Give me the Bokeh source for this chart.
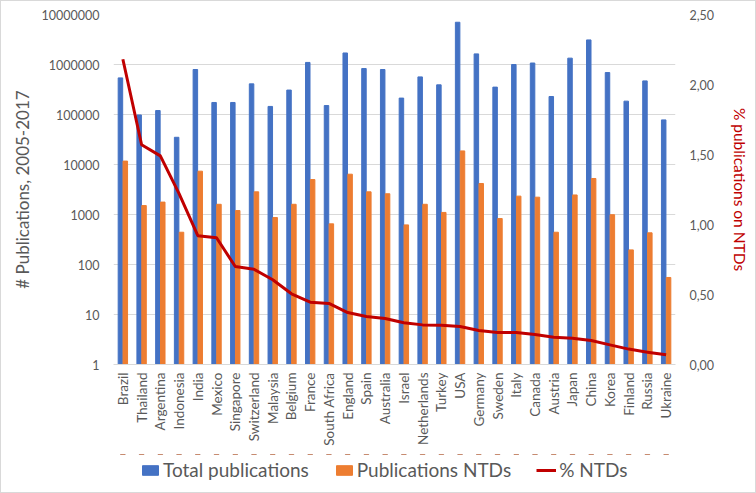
from bokeh.plotting import figure
from bokeh.layouts import column
from bokeh.models import (Range1d, LinearAxis, LinearScale, FixedTicker, CustomJSTickFormatter,
                          Legend, LegendItem, ColumnDataSource, FactorRange)
from bokeh.transform import dodge
from bokeh.embed import file_html
from bokeh.resources import INLINE

countries = ["Brazil", "Thailand", "Argentina", "Indonesia", "India", "Mexico",
             "Singapore", "Switzerland", "Malaysia", "Belgium", "France",
             "South Africa", "England", "Spain", "Australia", "Israel",
             "Netherlands", "Turkey", "USA", "Germany", "Sweden", "Italy",
             "Canada", "Austria", "Japan", "China", "Korea", "Finland",
             "Russia", "Ukraine"]

total_publications = [540000, 98000, 120000, 35000, 794000, 174000, 174000,
                      410000, 145000, 308000, 1100000, 151000, 1700000, 830000,
                      794000, 213000, 565000, 392000, 7000000, 1630000, 353000,
                      1000000, 1070000, 229000, 1340000, 3100000, 690000,
                      185000, 470000, 78000]

ntd_publications = [11700, 1510, 1770, 442, 7350, 1600, 1200, 2840, 870, 1600,
                    5000, 650, 6400, 2840, 2600, 620, 1600, 1100, 18700, 4170,
                    830, 2330, 2220, 442, 2460, 5250, 990, 196, 430, 55]

pct_ntds = [2.18, 1.57, 1.49, 1.22, 0.92, 0.905, 0.70, 0.68, 0.605, 0.505,
            0.445, 0.436, 0.371, 0.343, 0.329, 0.298, 0.283, 0.281, 0.271,
            0.243, 0.229, 0.229, 0.214, 0.195, 0.188, 0.171, 0.140, 0.110,
            0.088, 0.069]

left_ticks = [1, 10, 100, 1000, 10000, 100000, 1000000, 10000000]
right_ticks = [0, 0.5, 1.0, 1.5, 2.0, 2.5]
legend_labels = ["Total publications", "Publications NTDs", "% NTDs"]

FONT = "Lato"
GRAY = "#595959"
BLUE = "#4472C4"
ORANGE = "#ED7D31"
RED = "#C00000"

src = ColumnDataSource(dict(country=countries, total=total_publications,
                            ntds=ntd_publications, pct=pct_ntds))

p = figure(frame_width=562, frame_height=350,
           x_range=FactorRange(factors=countries, range_padding=0),
           y_axis_type="log", y_range=Range1d(left_ticks[0], left_ticks[-1]),
           output_backend="svg", toolbar_location=None,
           min_border_left=112, min_border_right=80,
           min_border_top=13, min_border_bottom=90)
p.outline_line_color = None
p.background_fill_color = "white"

p.extra_y_ranges = {"pct": Range1d(right_ticks[0], right_ticks[-1])}
p.extra_y_scales = {"pct": LinearScale()}

r1 = p.vbar(x=dodge("country", -0.13, range=p.x_range), top="total", bottom=1,
            width=0.24, source=src, color=BLUE)
r2 = p.vbar(x=dodge("country", 0.13, range=p.x_range), top="ntds", bottom=1,
            width=0.24, source=src, color=ORANGE)
r3 = p.line(x="country", y="pct", y_range_name="pct", source=src,
            line_width=3, color=RED, line_join="round")

# grid
p.xgrid.grid_line_color = None
p.ygrid.grid_line_color = "#d9d9d9"
p.ygrid.minor_grid_line_color = None

# left axis
yl = p.yaxis[0]
yl.ticker = FixedTicker(ticks=left_ticks)
yl.formatter = CustomJSTickFormatter(code="return tick.toFixed(0);")
yl.axis_line_color = None
yl.major_tick_line_color = None
yl.minor_tick_line_color = None
yl.major_tick_out = 0
yl.minor_tick_out = 0
yl.major_label_text_font = FONT
yl.major_label_text_font_size = "12.5px"
yl.major_label_text_color = GRAY
yl.major_label_standoff = 14
yl.axis_label = "# Publications, 2005-2017"
yl.axis_label_text_font = FONT
yl.axis_label_text_font_size = "17px"
yl.axis_label_text_font_style = "normal"
yl.axis_label_text_color = GRAY
yl.axis_label_standoff = 6

# right axis
yr = LinearAxis(y_range_name="pct", ticker=FixedTicker(ticks=right_ticks),
                formatter=CustomJSTickFormatter(code="return tick.toFixed(2).replace('.', ',');"))
yr.axis_line_color = None
yr.major_tick_line_color = None
yr.minor_tick_line_color = None
yr.major_tick_out = 0
yr.minor_tick_out = 0
yr.major_label_text_font = FONT
yr.major_label_text_font_size = "12.5px"
yr.major_label_text_color = GRAY
yr.major_label_standoff = 14
yr.axis_label = "% publications on NTDs"
yr.axis_label_text_font = FONT
yr.axis_label_text_font_size = "15.5px"
yr.axis_label_text_font_style = "normal"
yr.axis_label_text_color = RED
yr.axis_label_standoff = 14
p.add_layout(yr, "right")

# x axis
xa = p.xaxis[0]
xa.axis_line_color = "#d9d9d9"
xa.major_tick_line_color = None
xa.minor_tick_line_color = None
xa.major_tick_out = 0
xa.major_label_orientation = 1.5708
xa.major_label_text_font = FONT
xa.major_label_text_font_size = "13.5px"
xa.major_label_text_color = GRAY
xa.major_label_standoff = 8

# legend strip below the chart: same series, drawn just outside its visible
# range (moderate pixel offsets), so only their legend keys show
pl = figure(width=754, height=38,
            x_range=FactorRange(factors=countries, range_padding=0),
            y_range=Range1d(-2e7, -1e7),
            x_axis_location=None, y_axis_location=None,
            output_backend="svg", toolbar_location=None,
            min_border_left=0, min_border_right=0, min_border_top=0, min_border_bottom=0)
pl.outline_line_color = None
pl.grid.visible = False
k1 = pl.vbar(x="country", top="total", bottom=1, width=0.24, source=src, color=BLUE)
k2 = pl.vbar(x="country", top="ntds", bottom=1, width=0.24, source=src, color=ORANGE)
k3 = pl.line(x="country", y="pct", source=src, line_width=3, color=RED)

legend = Legend(items=[LegendItem(label=legend_labels[0], renderers=[k1]),
                       LegendItem(label=legend_labels[1], renderers=[k2]),
                       LegendItem(label=legend_labels[2], renderers=[k3])],
                orientation="horizontal", location=(27, 11),
                glyph_width=20, glyph_height=12, label_standoff=3, spacing=25,
                border_line_color=None, background_fill_alpha=0,
                padding=0, margin=0,
                label_text_font=FONT, label_text_font_size="19px",
                label_text_color=GRAY)
pl.add_layout(legend, "center")

layout = column(p, pl, spacing=0, styles={"border": "1px solid #d9d9d9"})

open("out.html", "w").write(file_html(layout, INLINE))
